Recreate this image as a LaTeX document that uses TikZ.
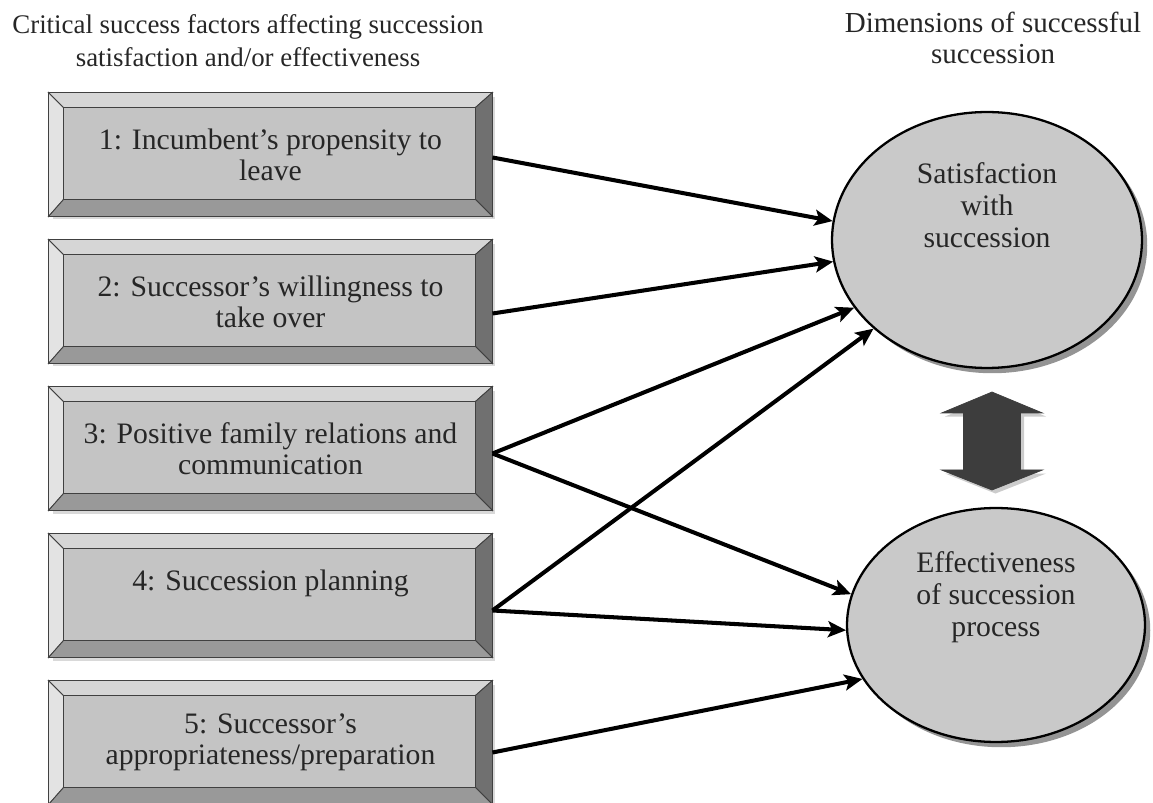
\documentclass[tikz,border=0pt]{standalone}
\usepackage{fontspec}
\setmainfont{Liberation Serif}
\usepackage{xcolor}
\usetikzlibrary{arrows.meta}
\usetikzlibrary{calc}
\usetikzlibrary{shadows}
\usetikzlibrary{shapes.geometric}

\definecolor{facegray}{gray}{0.77}
\definecolor{bevellight}{gray}{0.89}
\definecolor{beveltop}{gray}{0.84}
\definecolor{bevelbottom}{gray}{0.6}
\definecolor{beveldark}{gray}{0.44}
\definecolor{ellgray}{gray}{0.79}
\definecolor{arrowgray}{gray}{0.24}
\definecolor{inkgray}{gray}{0.15}

\tikzset{
  factor/.style={rectangle, draw=black!80, line width=0.6pt, fill=facegray,
    minimum width=8.86cm, minimum height=2.46cm, align=center, text=inkgray,
    font=\fontsize{16.9}{17.6}\selectfont,
    drop shadow={shadow xshift=2pt, shadow yshift=-2pt, opacity=0.3}},
  bevel/.style={draw=black!75, line width=0.5pt},
  dimension/.style={ellipse, draw=black, line width=1.3pt, fill=ellgray,
    drop shadow={shadow xshift=3pt, shadow yshift=-3pt, fill=black!60, opacity=0.7}},
  dimtext/.style={align=center, text=inkgray, font=\fontsize{16.9}{18.2}\selectfont},
  heading/.style={align=center, text=inkgray, font=\fontsize{15.3}{18.6}\selectfont},
  link/.style={line width=2.3pt, -{Stealth[length=3.6mm, width=3.2mm, inset=0.8mm]}},
  bothway/.style={fill=arrowgray, draw=arrowgray, line width=0.4pt,
    drop shadow={shadow xshift=2pt, shadow yshift=-2pt, opacity=0.4}}
}

\begin{document}
\begin{tikzpicture}[x=0.02cm, y=-0.02cm]
        \useasboundingbox (0,0) rectangle (1153,803);
        % headings
        \node[heading] (lefthead) at (248,41) {Critical success factors affecting succession\\satisfaction and/or effectiveness};
        \node[heading, font=\fontsize{16.5}{17.4}\selectfont] (righthead) at (993,38) {Dimensions of successful\\succession};
        % factor boxes
        \node[factor] (f1) at (270.5,154.5) {1: Incumbent's propensity to\\leave};
        \node[factor] (f2) at (270.5,301.5) {2: Successor's willingness to\\take over};
        \node[factor] (f3) at (270.5,448.5) {3: Positive family relations and\\communication};
        \node[factor] (f4) at (270.5,595.5) {4: Succession planning\\ \mbox{}};
        \node[factor] (f5) at (270.5,742.5) {5: Successor's\\appropriateness/preparation};
        \foreach \i in {1,...,5} {
            \filldraw[bevel, fill=bevellight] (f\i.north west) -- ($(f\i.north west)+(15,15)$) -- ($(f\i.south west)+(15,-17)$) -- (f\i.south west) -- cycle;
            \filldraw[bevel, fill=beveltop] (f\i.north west) -- (f\i.north east) -- ($(f\i.north east)+(-17,15)$) -- ($(f\i.north west)+(15,15)$) -- cycle;
            \filldraw[bevel, fill=beveldark] (f\i.north east) -- (f\i.south east) -- ($(f\i.south east)+(-17,-17)$) -- ($(f\i.north east)+(-17,15)$) -- cycle;
            \filldraw[bevel, fill=bevelbottom] (f\i.south west) -- (f\i.south east) -- ($(f\i.south east)+(-17,-17)$) -- ($(f\i.south west)+(15,-17)$) -- cycle;
        }
        % dimensions
        \node[dimension, minimum width=6.2cm, minimum height=5.12cm] (sat) at (987,240) {};
        \node[dimtext] (sattext) at (987,205) {Satisfaction\\with\\succession};
        \node[dimension, minimum width=5.96cm, minimum height=4.68cm] (eff) at (996,625) {};
        \node[dimtext] (efftext) at (996,597) {Effectiveness\\of succession\\process};
        % two-way arrow between the dimensions
        \coordinate (mid) at (992,441);
        \filldraw[bothway] (mid) ++(0,-49) -- ++(50.5,21) -- ++(-22,0) -- ++(0,57) -- ++(22,0) -- ++(-50.5,20) -- ++(-50.5,-20) -- ++(22,0) -- ++(0,-57) -- ++(-22,0) -- cycle;
        % links
        \draw[link] ($(f1.east)+(0,3)$) -- (sat.173);
        \draw[link] ($(f2.east)+(0,12)$) -- (sat.188);
        \draw[link] ($(f3.east)+(0,5)$) -- (sat.207);
        \draw[link] ($(f3.east)+(0,5)$) -- (eff.168);
        \draw[link] ($(f4.east)+(0,15)$) -- (sat.218);
        \draw[link] ($(f4.east)+(0,15)$) -- (eff.182);
        \draw[link] ($(f5.east)+(0,10)$) -- (eff.202);
    \end{tikzpicture}
\end{document}
